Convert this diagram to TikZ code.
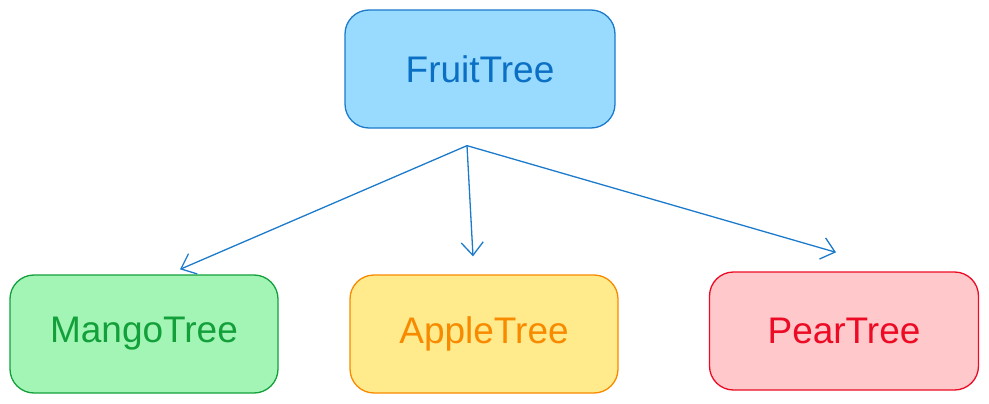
\documentclass[tikz,border=0pt]{standalone}
\usepackage{fontspec}
\setmainfont{Liberation Sans}
\usetikzlibrary{arrows.meta}
\definecolor{rootfill}{HTML}{99DBFE}
\definecolor{rootline}{HTML}{1C7ACB}
\definecolor{roottext}{HTML}{0B6FC4}
\definecolor{mangofill}{HTML}{A3F5B6}
\definecolor{mangoline}{HTML}{13A03A}
\definecolor{applefill}{HTML}{FFEA8C}
\definecolor{appleline}{HTML}{F88A00}
\definecolor{pearfill}{HTML}{FFC8CA}
\definecolor{pearline}{HTML}{EC0A24}
\begin{document}
\begin{tikzpicture}[
                x=1pt, y=-1pt,
                every node/.style={font=\fontsize{37}{42}\selectfont},
                treebox/.style={rectangle, rounded corners=24pt, line width=1.3pt, minimum width=268pt, minimum height=118pt},
                link/.style={-{Straight Barb[length=13pt, width=22pt]}, line width=1.3pt, draw=rootline}
            ]
                \useasboundingbox (0,0) rectangle (989,404);

                % Base class
                \node[treebox, fill=rootfill, draw=rootline, text=roottext, minimum width=270pt] (fruit) at (480,69) {FruitTree};

                % Subclasses
                \node[treebox, fill=mangofill, draw=mangoline, text=mangoline] (mango) at (144,334) {MangoTree};
                \node[treebox, fill=applefill, draw=appleline, text=appleline] (apple) at (484,334) {AppleTree};
                \node[treebox, fill=pearfill, draw=pearline, text=pearline, minimum width=269pt] (pear) at (844,331) {PearTree};

                % Fork point under the base class
                \coordinate (fork) at ([shift={(-13,17)}]fruit.south);

                % Inheritance arrows
                \draw[link] (fork) -- ([shift={(36,-5)}]mango.north);
                \draw[link] (fork) -- ([shift={(-11,-18)}]apple.north);
                \draw[link] (fork) -- ([shift={(-8,-19)}]pear.north);
            \end{tikzpicture}
\end{document}
